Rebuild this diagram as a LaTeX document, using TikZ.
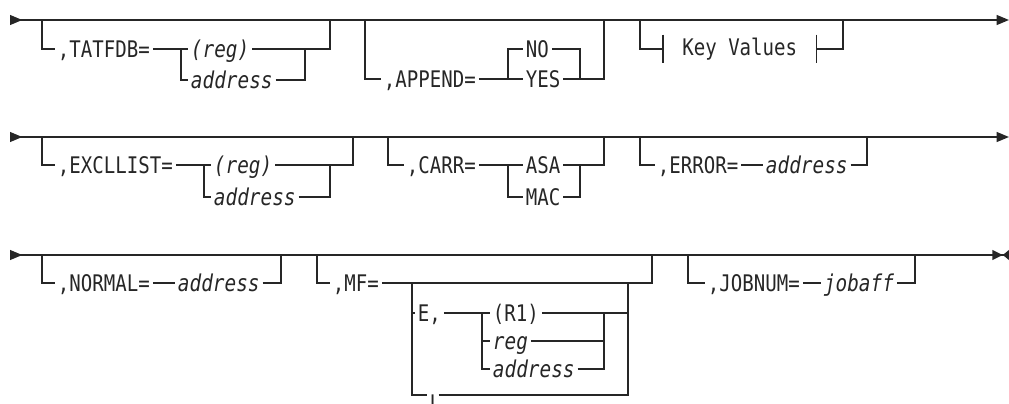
\documentclass[tikz,border=0pt]{standalone}
\usepackage{fontspec}
\newfontfamily\railmono{DejaVu Sans Mono}[FakeStretch=0.835]
\newfontfamily\railsans{DejaVu Sans}[FakeStretch=0.835]
\usepackage{tikz}
\usetikzlibrary{arrows.meta}
\colorlet{railink}{black!85}

\begin{document}
\begin{tikzpicture}[x=0.02cm, y=-0.02cm,
  rail/.style={draw=railink, line width=0.9pt},
  rowline/.style={rail, arrows={Triangle[reversed, length=7pt, width=5.6pt]-Triangle[length=7pt, width=5.6pt]}},
  rowlast/.style={rail, arrows={Triangle[reversed, length=7pt, width=5.6pt]-{Triangle[length=6pt, width=5.6pt] Triangle[reversed, length=3.5pt, width=5.6pt]}}},
  kw/.style={anchor=west, inner xsep=1.5pt, inner ysep=0pt, text=railink,
             text height=9.4pt, text depth=0pt,
             font=\railmono\fontsize{13}{15}\selectfont},
  var/.style={kw, font=\railmono\itshape\fontsize{13.2}{15}\selectfont},
  frag/.style={anchor=west, inner xsep=10.8pt, inner ysep=0pt, text=railink,
               minimum height=16pt, font=\railmono\fontsize{13}{15}\selectfont}
]
  \clip (0,0) rectangle (1009,403);
  \useasboundingbox (0,0) rectangle (1009,403);

  % row 1
  \coordinate (s1) at (10,20);
  \coordinate (e1) at (1009,20);
  \draw[rowline] (s1) -- (e1);

  \coordinate (a1) at (42,20);
  \node[kw] (tatfdb) at (55,49) {,TATFDB=};
  \coordinate (a1j) at (181,49);
  \node[var] (reg1) at (188,49) {(reg)};
  \node[var] (adr1) at (188,80) {address};
  \coordinate (a1k) at (305,49);
  \coordinate (a1e) at (330,20);
  \draw[rail] (a1) |- (tatfdb.west);
  \draw[rail] (tatfdb.east) -- (reg1.west);
  \draw[rail] (a1j) |- (adr1.west);
  \draw[rail] (reg1.east) -- (a1k);
  \draw[rail] (adr1.east) -| (a1k);
  \draw[rail] (a1k) -| (a1e);

  \coordinate (b1) at (365,20);
  \node[kw] (append) at (381,79) {,APPEND=};
  \coordinate (b1j) at (508,79);
  \node[kw] (no) at (523,49) {NO};
  \node[kw] (yes) at (523,79) {YES};
  \coordinate (b1k) at (580,79);
  \coordinate (b1e) at (604,20);
  \draw[rail] (b1) |- (append.west);
  \draw[rail] (append.east) -- (yes.west);
  \draw[rail] (b1j) |- (no.west);
  \draw[rail] (no.east) -| (b1k);
  \draw[rail] (yes.east) -- (b1k) -| (b1e);

  \coordinate (k1) at (640,20);
  \node[frag] (kv) at (663,49) {Key Values};
  \coordinate (k1e) at (843,20);
  \draw[rail] (k1) |- (kv.west);
  \draw[rail] (kv.north west) -- (kv.south west);
  \draw[rail] (kv.north east) -- (kv.south east);
  \draw[rail] (kv.east) -| (k1e);

  % row 2
  \coordinate (s2) at (10,137);
  \coordinate (e2) at (1009,137);
  \draw[rowline] (s2) -- (e2);

  \coordinate (a2) at (42,137);
  \node[kw] (excl) at (55,165) {,EXCLLIST=};
  \coordinate (a2j) at (204,165);
  \node[var] (reg2) at (211,165) {(reg)};
  \node[var] (adr2) at (211,197) {address};
  \coordinate (a2k) at (330,165);
  \coordinate (a2e) at (353,137);
  \draw[rail] (a2) |- (excl.west);
  \draw[rail] (excl.east) -- (reg2.west);
  \draw[rail] (a2j) |- (adr2.west);
  \draw[rail] (reg2.east) -- (a2k);
  \draw[rail] (adr2.east) -| (a2k);
  \draw[rail] (a2k) -| (a2e);

  \coordinate (c2) at (388,137);
  \node[kw] (carr) at (404,165) {,CARR=};
  \coordinate (c2j) at (508,165);
  \node[kw] (asa) at (523,165) {ASA};
  \node[kw] (mac) at (523,197) {MAC};
  \coordinate (c2k) at (580,165);
  \coordinate (c2e) at (604,137);
  \draw[rail] (c2) |- (carr.west);
  \draw[rail] (carr.east) -- (asa.west);
  \draw[rail] (c2j) |- (mac.west);
  \draw[rail] (asa.east) -- (c2k);
  \draw[rail] (mac.east) -| (c2k);
  \draw[rail] (c2k) -| (c2e);

  \coordinate (d2) at (640,137);
  \node[kw] (error) at (655,165) {,ERROR=};
  \node[var] (adr3) at (763,165) {address};
  \coordinate (d2e) at (867,137);
  \draw[rail] (d2) |- (error.west);
  \draw[rail] (error.east) -- (adr3.west);
  \draw[rail] (adr3.east) -| (d2e);

  % row 3
  \coordinate (s3) at (10,255);
  \coordinate (e3) at (1009,255);
  \draw[rowlast] (s3) -- (e3);

  \coordinate (a3) at (42,255);
  \node[kw] (normal) at (55,283) {,NORMAL=};
  \node[var] (adr4) at (175,283) {address};
  \coordinate (a3e) at (281,255);
  \draw[rail] (a3) |- (normal.west);
  \draw[rail] (normal.east) -- (adr4.west);
  \draw[rail] (adr4.east) -| (a3e);

  \coordinate (b3) at (317,255);
  \node[kw] (mf) at (330,283) {,MF=};
  \coordinate (b3j) at (412,283);
  \coordinate (b3k) at (628,283);
  \coordinate (b3e) at (652,255);
  \node[kw] (ec) at (415,313) {E,};
  \coordinate (e3j) at (482,313);
  \node[kw] (r1) at (490,313) {(R1)};
  \node[var] (reg3) at (490,341) {reg};
  \node[var] (adr5) at (490,369) {address};
  \coordinate (e3k) at (604,313);
  \node[kw, anchor=north west, font=\railsans\fontsize{13}{15}\selectfont] (ii) at (427,395) {I};
  \draw[rail] (b3) |- (mf.west);
  \draw[rail] (mf.east) -- (b3k) -| (b3e);
  \draw[rail] (b3j) |- (ec.west);
  \draw[rail] (b3j) |- (ii.north west);
  \draw[rail] (ii.north east) -| (b3k);
  \draw[rail] (ec.east) -- (r1.west);
  \draw[rail] (e3j) |- (reg3.west);
  \draw[rail] (e3j) |- (adr5.west);
  \draw[rail] (r1.east) -- (e3k);
  \draw[rail] (reg3.east) -| (e3k);
  \draw[rail] (adr5.east) -| (e3k);
  \draw[rail] (e3k) -- (b3k |- e3k);

  \coordinate (c3) at (688,255);
  \node[kw] (jobnum) at (705,283) {,JOBNUM=};
  \node[var] (jobaff) at (821,283) {jobaff};
  \coordinate (c3e) at (915,255);
  \draw[rail] (c3) |- (jobnum.west);
  \draw[rail] (jobnum.east) -- (jobaff.west);
  \draw[rail] (jobaff.east) -| (c3e);
\end{tikzpicture}
\end{document}
